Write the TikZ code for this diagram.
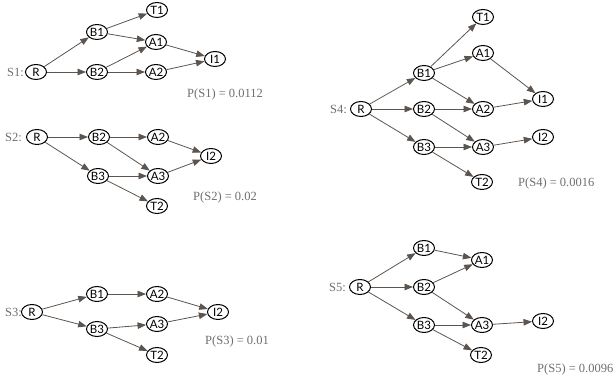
\documentclass[tikz,border=0pt]{standalone}
\usepackage{fontspec}
\setmainfont{Liberation Serif}
\newfontfamily\nodefont{Lato}
\usetikzlibrary{shapes.geometric,arrows.meta}
\definecolor{edgecol}{RGB}{92,84,78}
\definecolor{labcol}{RGB}{110,110,110}
\tikzset{
  st/.style={ellipse,draw=black,line width=1pt,minimum width=21pt,minimum height=15pt,inner sep=0pt,font=\nodefont\fontsize{11.5}{11.5}\selectfont},
  ed/.style={draw=edgecol,line width=0.8pt,-{Triangle[length=8.5pt,width=6.5pt]},shorten >=0pt},
  lab/.style={text=labcol,font=\fontsize{12.5}{12.5}\selectfont,inner sep=0pt},
}
\begin{document}
\begin{tikzpicture}[x=1pt,y=-1pt]
\useasboundingbox (0,0) rectangle (616,379);
% ---------- S1 ----------
\node[st] (aR) at (36,72) {R};
\node[st] (aB1) at (97,32) {B1};
\node[st] (aB2) at (97,72) {B2};
\node[st] (aT1) at (157,10) {T1};
\node[st] (aA1) at (156,42) {A1};
\node[st] (aA2) at (156,72) {A2};
\node[st] (aI1) at (215,59) {I1};
\node[lab,anchor=east] (aS) at ([xshift=-1pt]aR.west) {S1:};
\node[lab,anchor=west] (aP) at (187,94) {P(S1) = 0.0112};
\draw[ed] (aR) -- (aB1);
\draw[ed] (aR) -- (aB2);
\draw[ed] (aB1) -- (aT1);
\draw[ed] (aB1) -- (aA1);
\draw[ed] (aB2) -- (aA1);
\draw[ed] (aB2) -- (aA2);
\draw[ed] (aA1) -- (aI1);
\draw[ed] (aA2) -- (aI1);
% ---------- S2 ----------
\node[st] (bR) at (37,137) {R};
\node[st] (bB2) at (99,137) {B2};
\node[st] (bA2) at (158,137) {A2};
\node[st] (bB3) at (98,176) {B3};
\node[st] (bA3) at (158,176) {A3};
\node[st] (bI2) at (211,156) {I2};
\node[st] (bT2) at (157,206) {T2};
\node[lab,anchor=east] (bS) at ([xshift=-4pt]bR.west) {S2:};
\node[lab,anchor=west] (bP) at (193,197) {P(S2) = 0.02};
\draw[ed] (bR) -- (bB2);
\draw[ed] (bR) -- (bB3);
\draw[ed] (bB2) -- (bA2);
\draw[ed] (bB2) -- (bA3);
\draw[ed] (bB3) -- (bA3);
\draw[ed] (bB3) -- (bT2);
\draw[ed] (bA2) -- (bI2);
\draw[ed] (bA3) -- (bI2);
% ---------- S3 ----------
\node[st] (cR) at (32,312) {R};
\node[st] (cB1) at (97,294) {B1};
\node[st] (cA2) at (157,294) {A2};
\node[st] (cB3) at (97,329) {B3};
\node[st] (cA3) at (157,324) {A3};
\node[st] (cI2) at (218,312) {I2};
\node[st] (cT2) at (157,355) {T2};
\node[lab,anchor=east] (cS) at ([xshift=1pt]cR.west) {S3:};
\node[lab,anchor=west] (cP) at (205,341) {P(S3) = 0.01};
\draw[ed] (cR) -- (cB1);
\draw[ed] (cR) -- (cB3);
\draw[ed] (cB1) -- (cA2);
\draw[ed] (cB3) -- (cA3);
\draw[ed] (cB3) -- (cT2);
\draw[ed] (cA2) -- (cI2);
\draw[ed] (cA3) -- (cI2);
% ---------- S4 ----------
\node[st] (dR) at (361,109) {R};
\node[st] (dB1) at (424,73) {B1};
\node[st] (dB2) at (424,109) {B2};
\node[st] (dB3) at (424,147) {B3};
\node[st] (dT1) at (483,17) {T1};
\node[st] (dA1) at (483,53) {A1};
\node[st] (dA2) at (483,109) {A2};
\node[st] (dA3) at (483,147) {A3};
\node[st] (dT2) at (482,182) {T2};
\node[st] (dI1) at (543,99) {I1};
\node[st] (dI2) at (543,137) {I2};
\node[lab,anchor=east] (dS) at ([xshift=-3pt]dR.west) {S4:};
\node[lab,anchor=west] (dP) at (518,183) {P(S4) = 0.0016};
\draw[ed] (dR) -- (dB1);
\draw[ed] (dR) -- (dB2);
\draw[ed] (dR) -- (dB3);
\draw[ed] (dB1) -- (dT1);
\draw[ed] (dB1) -- (dA1);
\draw[ed] (dB1) -- (dA2);
\draw[ed] (dB2) -- (dA2);
\draw[ed] (dB2) -- (dA3);
\draw[ed] (dB3) -- (dA3);
\draw[ed] (dB3) -- (dT2);
\draw[ed] (dA1) -- (dI1);
\draw[ed] (dA2) -- (dI1);
\draw[ed] (dA3) -- (dI2);
% ---------- S5 ----------
\node[st] (eR) at (360,287) {R};
\node[st] (eB1) at (424,248) {B1};
\node[st] (eB2) at (424,287) {B2};
\node[st] (eB3) at (424,325) {B3};
\node[st] (eA1) at (482,260) {A1};
\node[st] (eA3) at (482,325) {A3};
\node[st] (eI2) at (543,321) {I2};
\node[st] (eT2) at (481,355) {T2};
\node[lab,anchor=east] (eS) at ([xshift=-3pt]eR.west) {S5:};
\node[lab,anchor=west] (eP) at (537,369) {P(S5) = 0.0096};
\draw[ed] (eR) -- (eB1);
\draw[ed] (eR) -- (eB2);
\draw[ed] (eR) -- (eB3);
\draw[ed] (eB1) -- (eA1);
\draw[ed] (eB2) -- (eA1);
\draw[ed] (eB2) -- (eA3);
\draw[ed] (eB3) -- (eA3);
\draw[ed] (eB3) -- (eT2);
\draw[ed] (eA3) -- (eI2);
\end{tikzpicture}
\end{document}
